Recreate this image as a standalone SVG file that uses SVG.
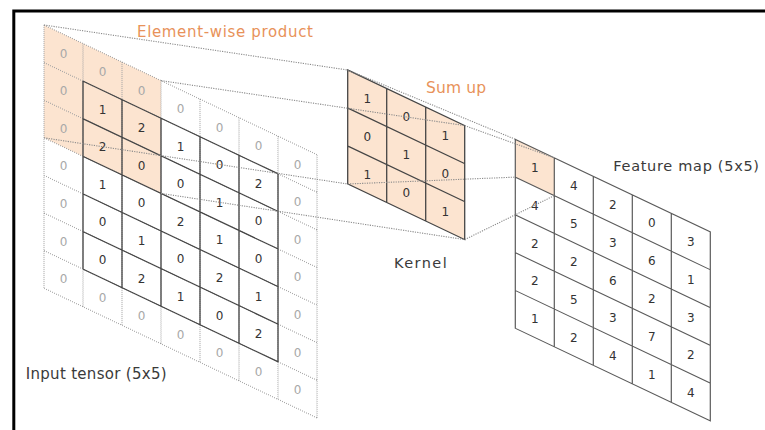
<svg xmlns="http://www.w3.org/2000/svg" width="765" height="430" viewBox="0 0 765 430">
  <style>
    .bg { fill: #ffffff; }
    .frame { fill: none; stroke: #000000; stroke-width: 3; }
    .hl { fill: #fce4d0; stroke: none; }
    .pad { fill: none; stroke: #a0a0a0; stroke-width: 1; stroke-dasharray: 1 1; }
    .grid { fill: none; stroke: #454545; stroke-width: 1.3; }
    .fgrid { fill: none; stroke: #5a5a5a; stroke-width: 1.2; }
    .link { fill: none; stroke: #8a8a8a; stroke-width: 1.1; stroke-dasharray: 1.2 1.2; }
    .num { font-family: "DejaVu Sans", "Noto Sans", sans-serif; font-size: 12px; text-anchor: middle; fill: #333333; }
    .num.p { fill: #a8a8a8; }
    .lbl { font-family: "DejaVu Sans", "Noto Sans", sans-serif; fill: #3a3a3a; }
    .olbl { font-family: "DejaVu Sans", "Noto Sans", sans-serif; fill: #e8925a; }
  </style>

  <rect class="bg" x="0" y="0" width="765" height="430"/>
  <path class="frame" d="M13.8,432 V11 H767"/>

  <!-- Input tensor: 5x5 values with one ring of zero padding (7x7 cells) -->
  <g id="input-tensor">
    <g transform="matrix(1,0.475,0,1,44,25)">
      <rect class="hl" x="0" y="0" width="117" height="112.8"/>
      <path class="pad" d="M0,0 V263.2 M39,0 V263.2 M78,0 V263.2 M117,0 V263.2 M156,0 V263.2 M195,0 V263.2 M234,0 V263.2 M273,0 V263.2
        M0,0 H273 M0,37.6 H273 M0,75.2 H273 M0,112.8 H273 M0,150.4 H273 M0,188 H273 M0,225.6 H273 M0,263.2 H273"/>
      <path class="grid" d="M39,37.6 V225.6 M78,37.6 V225.6 M117,37.6 V225.6 M156,37.6 V225.6 M195,37.6 V225.6 M234,37.6 V225.6
        M39,37.6 H234 M39,75.2 H234 M39,112.8 H234 M39,150.4 H234 M39,188 H234 M39,225.6 H234"/>
    </g>
    <!-- column 0 (padding) -->
    <text class="num p" x="63.5" y="57.5">0</text>
    <text class="num p" x="63.5" y="95.1">0</text>
    <text class="num p" x="63.5" y="132.7">0</text>
    <text class="num p" x="63.5" y="170.3">0</text>
    <text class="num p" x="63.5" y="207.9">0</text>
    <text class="num p" x="63.5" y="245.5">0</text>
    <text class="num p" x="63.5" y="283.1">0</text>
    <!-- column 1 -->
    <text class="num p" x="102.5" y="76.0">0</text>
    <text class="num" x="102.5" y="113.6">1</text>
    <text class="num" x="102.5" y="151.2">2</text>
    <text class="num" x="102.5" y="188.8">1</text>
    <text class="num" x="102.5" y="226.4">0</text>
    <text class="num" x="102.5" y="264.0">0</text>
    <text class="num p" x="102.5" y="301.6">0</text>
    <!-- column 2 -->
    <text class="num p" x="141.5" y="94.5">0</text>
    <text class="num" x="141.5" y="132.1">2</text>
    <text class="num" x="141.5" y="169.7">0</text>
    <text class="num" x="141.5" y="207.3">0</text>
    <text class="num" x="141.5" y="244.9">1</text>
    <text class="num" x="141.5" y="282.5">2</text>
    <text class="num p" x="141.5" y="320.1">0</text>
    <!-- column 3 -->
    <text class="num p" x="180.5" y="113.0">0</text>
    <text class="num" x="180.5" y="150.6">1</text>
    <text class="num" x="180.5" y="188.2">0</text>
    <text class="num" x="180.5" y="225.8">2</text>
    <text class="num" x="180.5" y="263.4">0</text>
    <text class="num" x="180.5" y="301.0">1</text>
    <text class="num p" x="180.5" y="338.6">0</text>
    <!-- column 4 -->
    <text class="num p" x="219.5" y="131.6">0</text>
    <text class="num" x="219.5" y="169.2">0</text>
    <text class="num" x="219.5" y="206.8">1</text>
    <text class="num" x="219.5" y="244.4">1</text>
    <text class="num" x="219.5" y="282.0">2</text>
    <text class="num" x="219.5" y="319.6">0</text>
    <text class="num p" x="219.5" y="357.2">0</text>
    <!-- column 5 -->
    <text class="num p" x="258.5" y="150.1">0</text>
    <text class="num" x="258.5" y="187.7">2</text>
    <text class="num" x="258.5" y="225.3">0</text>
    <text class="num" x="258.5" y="262.9">0</text>
    <text class="num" x="258.5" y="300.5">1</text>
    <text class="num" x="258.5" y="338.1">2</text>
    <text class="num p" x="258.5" y="375.7">0</text>
    <!-- column 6 (padding) -->
    <text class="num p" x="297.5" y="168.6">0</text>
    <text class="num p" x="297.5" y="206.2">0</text>
    <text class="num p" x="297.5" y="243.8">0</text>
    <text class="num p" x="297.5" y="281.4">0</text>
    <text class="num p" x="297.5" y="319.0">0</text>
    <text class="num p" x="297.5" y="356.6">0</text>
    <text class="num p" x="297.5" y="394.2">0</text>
    <text class="lbl" x="25.7" y="379" font-size="15" textLength="141" lengthAdjust="spacing">Input tensor (5x5)</text>
  </g>

  <!-- 3x3 kernel -->
  <g id="kernel">
    <g transform="matrix(1,0.475,0,1,347.7,70)">
      <rect class="hl" x="0" y="0" width="117" height="114"/>
      <path class="grid" d="M0,0 H117 V114 H0 Z M39,0 V114 M78,0 V114 M0,38 H117 M0,76 H117"/>
    </g>
    <text class="num" x="367.2" y="102.7">1</text>
    <text class="num" x="367.2" y="140.7">0</text>
    <text class="num" x="367.2" y="178.7">1</text>
    <text class="num" x="406.2" y="121.2">0</text>
    <text class="num" x="406.2" y="159.2">1</text>
    <text class="num" x="406.2" y="197.2">0</text>
    <text class="num" x="445.2" y="139.7">1</text>
    <text class="num" x="445.2" y="177.7">0</text>
    <text class="num" x="445.2" y="215.7">1</text>
    <text class="lbl" x="394" y="267.7" font-size="14.5" textLength="52.7" lengthAdjust="spacing">Kernel</text>
  </g>

  <!-- 5x5 feature map -->
  <g id="feature-map">
    <g transform="matrix(1,0.475,0,1,515.3,139.3)">
      <rect class="hl" x="0" y="0" width="39" height="37.8"/>
      <path class="fgrid" d="M0,0 H195 V189 H0 Z M39,0 V189 M78,0 V189 M117,0 V189 M156,0 V189
        M0,37.8 H195 M0,75.6 H195 M0,113.4 H195 M0,151.2 H195"/>
    </g>
    <text class="num" x="534.8" y="171.9">1</text>
    <text class="num" x="534.8" y="209.7">4</text>
    <text class="num" x="534.8" y="247.5">2</text>
    <text class="num" x="534.8" y="285.3">2</text>
    <text class="num" x="534.8" y="323.1">1</text>
    <text class="num" x="573.8" y="190.4">4</text>
    <text class="num" x="573.8" y="228.2">5</text>
    <text class="num" x="573.8" y="266.0">2</text>
    <text class="num" x="573.8" y="303.8">5</text>
    <text class="num" x="573.8" y="341.6">2</text>
    <text class="num" x="612.8" y="208.9">2</text>
    <text class="num" x="612.8" y="246.7">3</text>
    <text class="num" x="612.8" y="284.5">6</text>
    <text class="num" x="612.8" y="322.3">3</text>
    <text class="num" x="612.8" y="360.1">4</text>
    <text class="num" x="651.8" y="227.4">0</text>
    <text class="num" x="651.8" y="265.2">6</text>
    <text class="num" x="651.8" y="303.0">2</text>
    <text class="num" x="651.8" y="340.8">7</text>
    <text class="num" x="651.8" y="378.6">1</text>
    <text class="num" x="690.8" y="246.0">3</text>
    <text class="num" x="690.8" y="283.8">1</text>
    <text class="num" x="690.8" y="321.6">3</text>
    <text class="num" x="690.8" y="359.4">2</text>
    <text class="num" x="690.8" y="397.2">4</text>
    <text class="lbl" x="613.3" y="170.7" font-size="14.5" textLength="145.7" lengthAdjust="spacing">Feature map (5x5)</text>
  </g>

  <!-- projection lines: input window to kernel, kernel to output cell -->
  <g id="connectors">
    <path class="link" d="M44,25 L347.7,70"/>
    <path class="link" d="M161,80.6 L464.7,125.6"/>
    <path class="link" d="M44,137.8 L347.7,184"/>
    <path class="link" d="M161,193.4 L464.7,239.6"/>
    <path class="link" d="M347.7,70 L515.3,139.3"/>
    <path class="link" d="M464.7,125.6 L554.3,157.8"/>
    <path class="link" d="M347.7,184 L515.3,177.1"/>
    <path class="link" d="M464.7,239.6 L554.3,195.6"/>
  </g>

  <g id="step-labels">
    <text class="olbl" x="137" y="36.7" font-size="15" textLength="176" lengthAdjust="spacing">Element-wise product</text>
    <text class="olbl" x="426" y="93.3" font-size="15.5" textLength="60" lengthAdjust="spacing">Sum up</text>
  </g>
</svg>
